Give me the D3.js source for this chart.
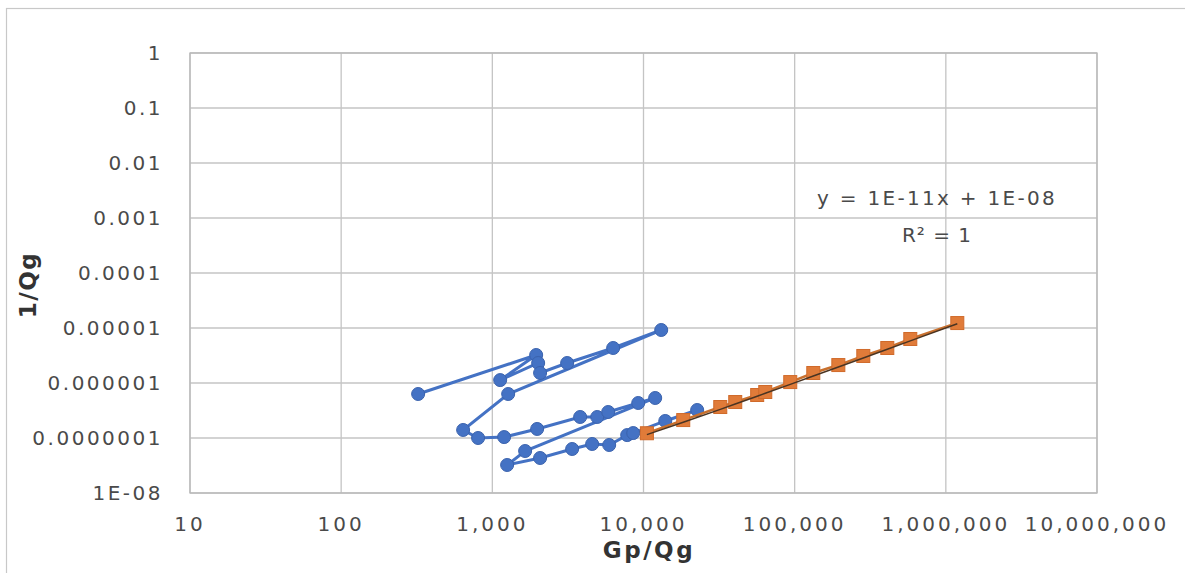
<!DOCTYPE html>
<html>
<head>
<meta charset="utf-8">
<script src="https://cdn.jsdelivr.net/npm/d3@7"></script>
<style>
  body { margin: 0; background: #fff; }
  text { font-family: "DejaVu Sans", sans-serif; }
</style>
</head>
<body>
<svg width="1185" height="573"></svg>
<script>
// measured series (Gp/Qg, 1/Qg), in plotting order
var blueX = [323, 1950, 1127, 2010, 2070, 3126, 6300, 13100, 1273, 641, 805, 1197, 1979, 3810, 4940, 5840, 9230, 11950,
             1648, 1253, 2070, 3373, 4575, 5930, 7800, 8550, 13930, 22650];
var blueY = [6.31e-7, 3.23e-6, 1.13e-6, 2.31e-6, 1.52e-6, 2.31e-6, 4.33e-6, 9.2e-6, 6.31e-7, 1.40e-7, 1.0e-7, 1.04e-7, 1.46e-7, 2.41e-7, 2.41e-7, 2.97e-7, 4.33e-7, 5.34e-7,
             5.8e-8, 3.23e-8, 4.33e-8, 6.31e-8, 7.78e-8, 7.46e-8, 1.13e-7, 1.23e-7, 2.04e-7, 3.23e-7];
var orangeX = [10530, 18320, 32200, 40450, 56500, 63900, 93500, 132800, 194500, 284500, 410000, 582000, 1191000];
var orangeY = [1.22e-7, 2.12e-7, 3.66e-7, 4.51e-7, 6.05e-7, 6.86e-7, 1.04e-6, 1.52e-6, 2.12e-6, 3.10e-6, 4.33e-6, 6.31e-6, 1.23e-5];
var trendSlope = 1e-11, trendIntercept = 1e-8;
var xTicks = [10, 100, 1000, 10000, 100000, 1000000, 10000000];
var yTicks = [1, 0.1, 0.01, 0.001, 0.0001, 0.00001, 0.000001, 0.0000001, 1e-8];
var yTickLabels = ["1", "0.1", "0.01", "0.001", "0.0001", "0.00001", "0.000001", "0.0000001", "1E-08"];

var svg = d3.select("svg");
var L = 190, R = 1097, T = 53, B = 493;
var x = d3.scaleLog().domain([10, 1e7]).range([L, R]);
var y = d3.scaleLog().domain([1e-8, 1]).range([B, T]);
var txt = "#4a4a4a", grid = "#c4c4c4";

// outer chart frame
svg.append("rect").attr("x", 6.5).attr("y", 8.5).attr("width", 1200).attr("height", 600)
  .attr("fill", "none").attr("stroke", "#c8c8c8").attr("stroke-width", 1.2);

// grid
svg.append("g").selectAll("line").data(xTicks).enter().append("line")
  .attr("x1", function(d){ return x(d); }).attr("x2", function(d){ return x(d); })
  .attr("y1", T).attr("y2", B).attr("stroke", grid).attr("stroke-width", 1.3);
svg.append("g").selectAll("line").data(yTicks).enter().append("line")
  .attr("y1", function(d){ return y(d); }).attr("y2", function(d){ return y(d); })
  .attr("x1", L).attr("x2", R).attr("stroke", grid).attr("stroke-width", 1.3);

// tick labels
svg.append("g").selectAll("text").data(yTicks).enter().append("text")
  .attr("x", 163).attr("y", function(d){ return y(d); }).attr("dy", "0.36em")
  .attr("text-anchor", "end").attr("font-size", 20).attr("letter-spacing", 2.5).attr("fill", txt)
  .text(function(d, i){ return yTickLabels[i]; });
svg.append("g").selectAll("text").data(xTicks).enter().append("text")
  .attr("x", function(d){ return x(d); }).attr("y", 524).attr("dy", "0.36em")
  .attr("text-anchor", "middle").attr("font-size", 20).attr("letter-spacing", 3).attr("fill", txt)
  .text(d3.format(","));

// axis titles
svg.append("text").attr("x", 649).attr("y", 550).attr("dy", "0.36em").attr("text-anchor", "middle")
  .attr("font-size", 23).attr("font-weight", "bold").attr("letter-spacing", 2.5).attr("fill", "#333").text("Gp/Qg");
svg.append("text").attr("transform", "translate(28,285) rotate(-90)").attr("dy", "0.36em")
  .attr("text-anchor", "middle").attr("font-size", 23).attr("font-weight", "bold").attr("letter-spacing", 1.5)
  .attr("fill", "#333").text("1/Qg");

// blue series
var blue = blueX.map(function(v, k){ return [v, blueY[k]]; });
var line = d3.line().x(function(d){ return x(d[0]); }).y(function(d){ return y(d[1]); });
svg.append("path").datum(blue).attr("d", line)
  .attr("fill", "none").attr("stroke", "#4472c4").attr("stroke-width", 3);
svg.append("g").selectAll("circle").data(blue).enter().append("circle")
  .attr("cx", function(d){ return x(d[0]); }).attr("cy", function(d){ return y(d[1]); })
  .attr("r", 6.5).attr("fill", "#4472c4").attr("stroke", "#3a62ad").attr("stroke-width", 1);

// orange series + trendline
var orange = orangeX.map(function(v, k){ return [v, orangeY[k]]; });
svg.append("path").datum(orange).attr("d", line)
  .attr("fill", "none").attr("stroke", "#c8702e").attr("stroke-width", 2.5);
svg.append("g").selectAll("rect").data(orange).enter().append("rect")
  .attr("x", function(d){ return x(d[0]) - 6.5; }).attr("y", function(d){ return y(d[1]) - 6.5; })
  .attr("width", 13).attr("height", 13).attr("fill", "#e07b39").attr("stroke", "#d06a2a");
var trend = orangeX.map(function(v){ return [v, trendSlope * v + trendIntercept]; });
svg.append("path").datum(trend).attr("d", line)
  .attr("fill", "none").attr("stroke", "#4a3422").attr("stroke-width", 1.5);

// plot border
svg.append("rect").attr("x", L).attr("y", T).attr("width", R - L).attr("height", B - T)
  .attr("fill", "none").attr("stroke", "#b8b8b8").attr("stroke-width", 1.3);

// trendline label
svg.append("text").attr("x", 937).attr("y", 198).attr("dy", "0.36em").attr("text-anchor", "middle")
  .attr("font-size", 20).attr("letter-spacing", 2.3).attr("fill", txt).text("y = 1E-11x + 1E-08");
svg.append("text").attr("x", 937).attr("y", 235).attr("dy", "0.36em").attr("text-anchor", "middle")
  .attr("font-size", 20).attr("letter-spacing", 1).attr("fill", txt).text("R² = 1");
</script>
</body>
</html>
